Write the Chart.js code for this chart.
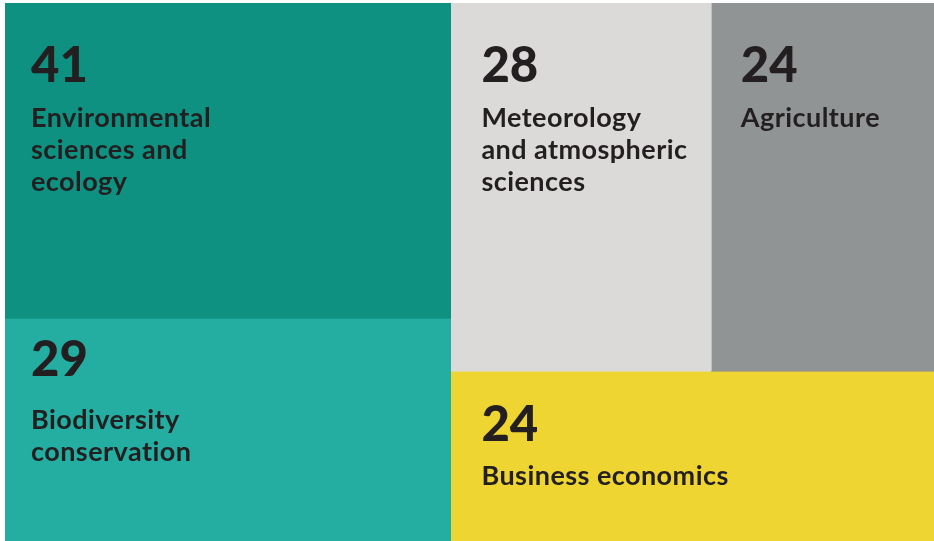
<!DOCTYPE html>
<html lang="en">
<head>
    <meta charset="UTF-8">
    <title>Treemap</title>
    <script src="https://cdn.jsdelivr.net/npm/chart.js"></script>
    <style>
        html, body {
            margin: 0;
            padding: 0;
            background: #ffffff;
        }
        .container {
            width: 934px;
            height: 541px;
            position: relative;
        }
    </style>
</head>
<body>
    <div class="container">
        <canvas id="treemap"></canvas>
    </div>

    <script>
        // data (sorted largest first, as the treemap lays it out)
        const categories = [
            ['Environmental', 'sciences and', 'ecology'],
            ['Biodiversity', 'conservation'],
            ['Meteorology', 'and atmospheric', 'sciences'],
            ['Agriculture'],
            ['Business economics']
        ];
        const counts = [41, 29, 28, 24, 24];

        // styling
        const colors = ['#0f9181', '#24ada1', '#dbdad9', '#919494', '#efd532'];
        const textColor = '#231f20';
        const padLeft = [26, 26, 31, 30, 31];
        const numBaseline = [79, 58, 79, 79, 70];
        const labelBaseline = [124, 111, 124, 124, 114];
        const lineHeight = 32;

        // layout box in scale units
        const AREA_W = 929;
        const AREA_H = 538;

        function worst(row, side) {
            const sum = row.reduce((a, b) => a + b, 0);
            const mx = Math.max(...row), mn = Math.min(...row);
            return Math.max(side * side * mx / (sum * sum), (sum * sum) / (side * side * mn));
        }

        // squarified treemap
        function squarify(values, x, y, w, h) {
            const total = values.reduce((a, b) => a + b, 0);
            const areas = values.map(v => v * w * h / total);
            const rects = [];
            let i = 0;
            while (i < areas.length) {
                const side = Math.min(w, h);
                let row = [areas[i]];
                let j = i + 1;
                while (j < areas.length && worst(row.concat(areas[j]), side) <= worst(row, side)) {
                    row.push(areas[j]);
                    j++;
                }
                const sum = row.reduce((a, b) => a + b, 0);
                const thick = sum / side;
                let off = 0;
                if (w >= h) {
                    row.forEach(a => {
                        const len = a / thick;
                        rects.push({ x0: x, x1: x + thick, y0: y + off, y1: y + off + len });
                        off += len;
                    });
                    x += thick; w -= thick;
                } else {
                    row.forEach(a => {
                        const len = a / thick;
                        rects.push({ x0: x + off, x1: x + off + len, y0: y, y1: y + thick });
                        off += len;
                    });
                    y += thick; h -= thick;
                }
                i = j;
            }
            return rects;
        }

        const rects = squarify(counts, 0, 0, AREA_W, AREA_H);

        const datasets = rects.map((r, i) => ({
            label: categories[i].join(' '),
            data: [
                { x: r.x0, y: r.y0 },
                { x: r.x1, y: r.y0 },
                { x: r.x1, y: r.y1 },
                { x: r.x0, y: r.y1 }
            ],
            showLine: true,
            fill: 'shape',
            backgroundColor: colors[i],
            borderColor: colors[i],
            borderWidth: 1,
            pointRadius: 0,
            tension: 0
        }));

        const cellLabels = {
            id: 'cellLabels',
            afterDatasetsDraw(chart) {
                const ctx = chart.ctx;
                const xs = chart.scales.x, ys = chart.scales.y;
                ctx.save();
                ctx.fillStyle = textColor;
                ctx.textBaseline = 'alphabetic';
                ctx.textAlign = 'left';
                rects.forEach((r, i) => {
                    const left = xs.getPixelForValue(r.x0) + padLeft[i];
                    const top = ys.getPixelForValue(r.y0);
                    ctx.letterSpacing = '0px';
                    ctx.font = '900 49px Lato';
                    ctx.fillText(String(counts[i]), left, top + numBaseline[i]);
                    // a little tracking, which also keeps Lato from joining "ti"
                    ctx.letterSpacing = '0.45px';
                    ctx.font = 'bold 27px Lato';
                    categories[i].forEach((line, k) => {
                        ctx.fillText(line, left, top + labelBaseline[i] + k * lineHeight);
                    });
                });
                ctx.restore();
            }
        };

        new Chart(document.getElementById('treemap'), {
            type: 'scatter',
            data: { datasets },
            plugins: [cellLabels],
            options: {
                responsive: true,
                maintainAspectRatio: false,
                animation: false,
                events: [],
                layout: { padding: { left: 5, top: 3, right: 0, bottom: 0 } },
                scales: {
                    x: { type: 'linear', min: 0, max: AREA_W, display: false },
                    y: { type: 'linear', min: 0, max: AREA_H, reverse: true, display: false }
                },
                plugins: {
                    legend: { display: false },
                    tooltip: { enabled: false }
                }
            }
        });
    </script>
</body>
</html>
